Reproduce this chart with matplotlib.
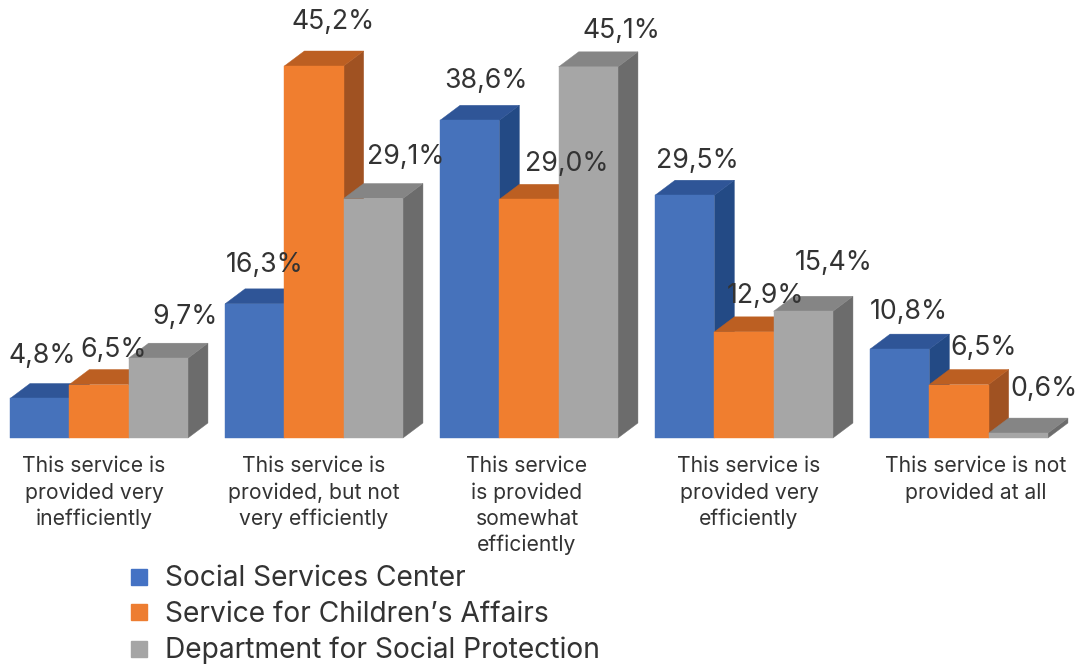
import matplotlib
matplotlib.use("Agg")
import matplotlib.pyplot as plt
from matplotlib.patches import Polygon, Rectangle
from matplotlib.lines import Line2D

categories = ["This service is\nprovided very\ninefficiently",
              "This service is\nprovided, but not\nvery efficiently",
              "This service\nis provided\nsomewhat\nefficiently",
              "This service is\nprovided very\nefficiently",
              "This service is not\nprovided at all"]
series_names = ["Social Services Center", "Service for Children’s Affairs", "Department for Social Protection"]
center = [4.8, 16.3, 38.6, 29.5, 10.8]
children = [6.5, 45.2, 29.0, 12.9, 6.5]
department = [9.7, 29.1, 45.1, 15.4, 0.6]

front = ["#4672BB", "#F07E2F", "#A6A6A6"]
top = ["#2F5597", "#BC5F22", "#858585"]
side = ["#234A85", "#A05222", "#6C6C6C"]
legend_colors = ["#4472C4", "#ED7D31", "#A5A5A5"]

# label offsets from the bar centre, pixels (x, y above the front top)
offsets = [[(3, 42), (15, 35), (27, 41)],
           [(10, 39), (19, 44), (32, 42)],
           [(16, 39), (38, 35), (33, 36)],
           [(13, 34), (21, 36), (30, 48)],
           [(9, 37), (25, 37), (26, 44)]]
cat_offsets = [-5, 0, -2, 5, 17]

W, H = 1082, 668
PXX, PXY = 215.0, 8.23
X0, Y0 = 99.0, 438.0
fig = plt.figure(figsize=(W / 100, H / 100), dpi=100, facecolor="white")
ax = fig.add_axes([0, 0, 1, 1])
ax.set_xlim(-X0 / PXX, (W - X0) / PXX)
ax.set_ylim((Y0 - H) / PXY, Y0 / PXY)
ax.axis("off")
FONT = ["Inter", "DejaVu Sans"]
TXT = "#333333"

bw = 59.3 / PXX
dx, dy = 20 / PXX, 15 / PXY
all_series = [center, children, department]
for i in range(len(categories)):
    for s, values in enumerate(all_series):
        v = values[i]
        x0 = i + (s - 1.5) * bw
        x1 = x0 + bw
        ax.add_patch(Polygon([(x1, 0), (x1 + dx, dy), (x1 + dx, v + dy), (x1, v)], fc=side[s], ec=side[s], lw=0.3, zorder=3))
        ax.add_patch(Polygon([(x0, v), (x1, v), (x1 + dx, v + dy), (x0 + dx, v + dy)], fc=top[s], ec=top[s], lw=0.3, zorder=3))
        ax.add_patch(Rectangle((x0, 0), bw, v, fc=front[s], ec=front[s], lw=0.3, zorder=3))
        ox, oy = offsets[i][s]
        ax.text(x0 + bw / 2 + ox / PXX, v + oy / PXY, f"{v:.1f}%".replace(".", ","),
                ha="center", va="center", fontsize=19.2, color=TXT, family=FONT, zorder=5)
    ax.text(i + cat_offsets[i] / PXX, -18.5 / PXY, categories[i], ha="center", va="top", fontsize=15.2,
            color=TXT, family=FONT, linespacing=1.36)

handles = [Line2D([], [], ls="none", marker="s", ms=11, color=c) for c in legend_colors]
ax.legend(handles, series_names, loc="upper left", bbox_to_anchor=(119 / W, 1 - 565.5 / H), frameon=False,
          prop={"family": FONT, "size": 20.3}, labelcolor=TXT, labelspacing=0.31, handletextpad=0.17,
          handlelength=1.45, borderpad=0, borderaxespad=0)
fig.savefig("out.png", dpi=100, facecolor="white")
